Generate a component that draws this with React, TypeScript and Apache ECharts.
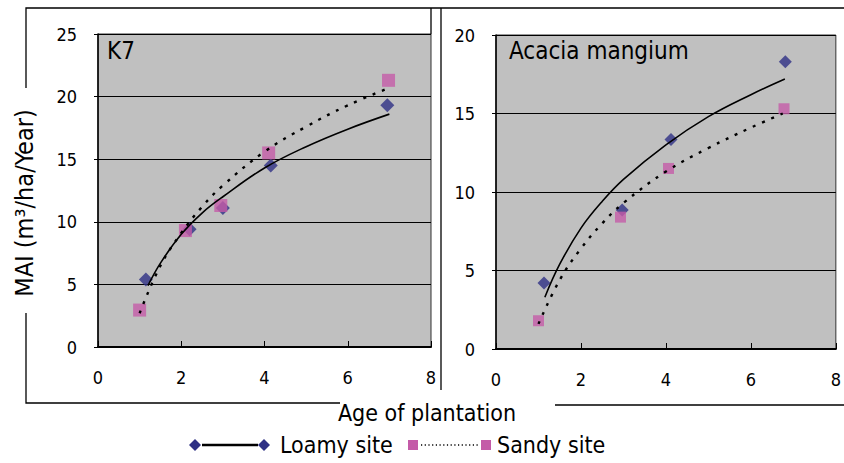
import React, { useEffect, useRef } from "react";
import * as echarts from "echarts";

// ---- data ----
const xTicks = [0, 2, 4, 6, 8];
const k7LoamyX = [1.15, 2.2, 3.0, 4.15, 6.95];
const k7LoamyY = [5.4, 9.4, 11.1, 14.5, 19.3];
const k7SandyX = [1.0, 2.1, 2.95, 4.1, 6.98];
const k7SandyY = [2.95, 9.3, 11.3, 15.5, 21.3];
const k7LoamyTrendX = [1.2, 1.5, 2, 2.5, 3, 4, 5, 6, 7];
const k7LoamyTrendY = [4.9, 6.7, 9.0, 10.7, 12.0, 14.3, 16.0, 17.4, 18.6];
const k7SandyTrendX = [1.0, 1.5, 2, 2.5, 3, 4, 5, 6, 7];
const k7SandyTrendY = [2.7, 6.5, 9.1, 11.2, 12.9, 15.6, 17.6, 19.3, 20.7];

const acLoamyX = [1.13, 2.97, 4.12, 6.81];
const acLoamyY = [4.2, 8.85, 13.35, 18.3];
const acSandyX = [1.0, 2.93, 4.06, 6.78];
const acSandyY = [1.8, 8.4, 11.5, 15.3];
const acLoamyTrendX = [1.15, 1.5, 2, 2.5, 3, 4, 5, 6, 6.8];
const acLoamyTrendY = [3.3, 5.4, 7.7, 9.4, 10.8, 13.0, 14.8, 16.2, 17.2];
const acSandyTrendX = [1.0, 1.5, 2, 2.5, 3, 4, 5, 6, 6.75];
const acSandyTrendY = [1.6, 4.4, 6.4, 8.0, 9.3, 11.3, 12.8, 14.1, 15.0];

const panelTitles = ["K7", "Acacia mangium"];
const seriesNames = ["Loamy site", "Sandy site"];
const yAxisTitle = "MAI (m³/ha/Year)";
const xAxisTitle = "Age of plantation";

const FONT = "DejaVu Sans Condensed, DejaVu Sans, sans-serif";
const NAVY = "#2E3084";
const PINK = "#C45BA8";

const zip = (xs: number[], ys: number[]) => xs.map((x, i) => [x, ys[i]]);

export default function App() {
  const ref = useRef<HTMLDivElement>(null);
  useEffect(() => {
    if (!ref.current) return;
    const chart = echarts.init(ref.current, undefined, { renderer: "svg" });

    const xAxisCommon = (gridIndex: number) => ({
      type: "value",
      gridIndex,
      min: xTicks[0],
      max: xTicks[xTicks.length - 1],
      interval: xTicks[1] - xTicks[0],
      axisLine: { show: true, lineStyle: { color: "#000", width: 2 } },
      axisTick: { show: true, inside: true, length: 6, lineStyle: { color: "#000", width: 1 } },
      axisLabel: { color: "#000", fontSize: 18, fontFamily: FONT, margin: 21 },
      splitLine: { show: false },
    });
    const yAxisCommon = (gridIndex: number, max: number) => ({
      type: "value",
      gridIndex,
      min: 0,
      max,
      interval: 5,
      axisLine: { show: true, lineStyle: { color: "#000", width: 1.5 } },
      axisTick: { show: true, inside: false, length: 4, lineStyle: { color: "#000", width: 1 } },
      axisLabel: { color: "#000", fontSize: 18, fontFamily: FONT, margin: 21 },
      splitLine: { show: true, lineStyle: { color: "#000", width: 1 } },
    });

    const scatter = (name: string, xi: number, data: number[][], symbol: string, size: number, color: string) => ({
      type: "scatter",
      name,
      xAxisIndex: xi,
      yAxisIndex: xi,
      data,
      symbol,
      symbolSize: size,
      itemStyle: { color },
      z: 3,
    });
    const trend = (xi: number, data: number[][], dashed: boolean) => ({
      type: "line",
      xAxisIndex: xi,
      yAxisIndex: xi,
      data,
      smooth: 0.4,
      showSymbol: false,
      symbol: "none",
      lineStyle: dashed
        ? { color: "#000", width: 2.4, type: [3, 7] }
        : { color: "#000", width: 1.6, type: "solid" },
      z: 4,
      silent: true,
    });

    const frame = { stroke: "#000", lineWidth: 1.3 };

    chart.setOption({
      animation: false,
      backgroundColor: "#fff",
      title: [
        { text: panelTitles[0], left: 102, top: 34, textStyle: { fontSize: 24, fontWeight: "normal", color: "#000", fontFamily: FONT } },
        { text: panelTitles[1], left: 504, top: 34, textStyle: { fontSize: 24, fontWeight: "normal", color: "#000", fontFamily: FONT } },
      ],
      grid: [
        { left: 98, top: 34, width: 333, height: 313, show: true, backgroundColor: "#C0C0C0", borderColor: "#333", borderWidth: 1 },
        { left: 496, top: 35, width: 346, height: 314, show: true, backgroundColor: "#C0C0C0", borderColor: "#333", borderWidth: 1 },
      ],
      xAxis: [xAxisCommon(0), xAxisCommon(1)],
      yAxis: [yAxisCommon(0, 25), yAxisCommon(1, 20)],
      series: [
        scatter(seriesNames[0], 0, zip(k7LoamyX, k7LoamyY), "diamond", 14, NAVY),
        scatter(seriesNames[1], 0, zip(k7SandyX, k7SandyY), "rect", 13, PINK),
        trend(0, zip(k7LoamyTrendX, k7LoamyTrendY), false),
        trend(0, zip(k7SandyTrendX, k7SandyTrendY), true),
        scatter(seriesNames[0], 1, zip(acLoamyX, acLoamyY), "diamond", 13, NAVY),
        scatter(seriesNames[1], 1, zip(acSandyX, acSandyY), "rect", 11, PINK),
        trend(1, zip(acLoamyTrendX, acLoamyTrendY), false),
        trend(1, zip(acSandyTrendX, acSandyTrendY), true),
      ],
      graphic: [
        // outer frames
        { type: "polyline", shape: { points: [[26, 88], [26, 8], [844, 8]] }, style: { ...frame, fill: null } },
        { type: "line", shape: { x1: 431, y1: 8, x2: 431, y2: 34 }, style: frame },
        { type: "polyline", shape: { points: [[26, 313], [26, 403], [340, 403]] }, style: { ...frame, fill: null } },
        { type: "line", shape: { x1: 441, y1: 8, x2: 441, y2: 390 }, style: frame },
        { type: "line", shape: { x1: 555, y1: 405, x2: 844, y2: 405 }, style: frame },
        // axis titles
        {
          type: "text",
          x: 24,
          y: 203,
          rotation: Math.PI / 2,
          style: { text: yAxisTitle, fontSize: 25, fontFamily: FONT, fill: "#000", align: "center", verticalAlign: "middle" },
        },
        {
          type: "text",
          x: 427,
          y: 413,
          style: { text: xAxisTitle, fontSize: 23, fontFamily: FONT, fill: "#000", align: "center", verticalAlign: "middle" },
        },
        // legend
        { type: "line", shape: { x1: 202, y1: 445, x2: 258, y2: 445 }, style: { stroke: "#000", lineWidth: 2.5 } },
        { type: "polygon", shape: { points: [[195, 439], [201, 445], [195, 451], [189, 445]] }, style: { fill: NAVY } },
        { type: "polygon", shape: { points: [[264, 439], [270, 445], [264, 451], [258, 445]] }, style: { fill: NAVY } },
        {
          type: "text",
          x: 280,
          y: 445,
          style: { text: seriesNames[0], fontSize: 23, fontFamily: FONT, fill: "#000", align: "left", verticalAlign: "middle" },
        },
        { type: "rect", shape: { x: 408, y: 440, width: 10, height: 10 }, style: { fill: PINK } },
        { type: "line", shape: { x1: 421, y1: 445, x2: 479, y2: 445 }, style: { stroke: "#000", lineWidth: 1.5, lineDash: [1.2, 2.5] } },
        { type: "rect", shape: { x: 481, y: 440, width: 10, height: 10 }, style: { fill: PINK } },
        {
          type: "text",
          x: 497,
          y: 445,
          style: { text: seriesNames[1], fontSize: 23, fontFamily: FONT, fill: "#000", align: "left", verticalAlign: "middle" },
        },
      ],
    });
    return () => chart.dispose();
  }, []);

  return <div ref={ref} style={{ position: "fixed", left: 0, top: 0, width: 844, height: 463 }} />;
}
